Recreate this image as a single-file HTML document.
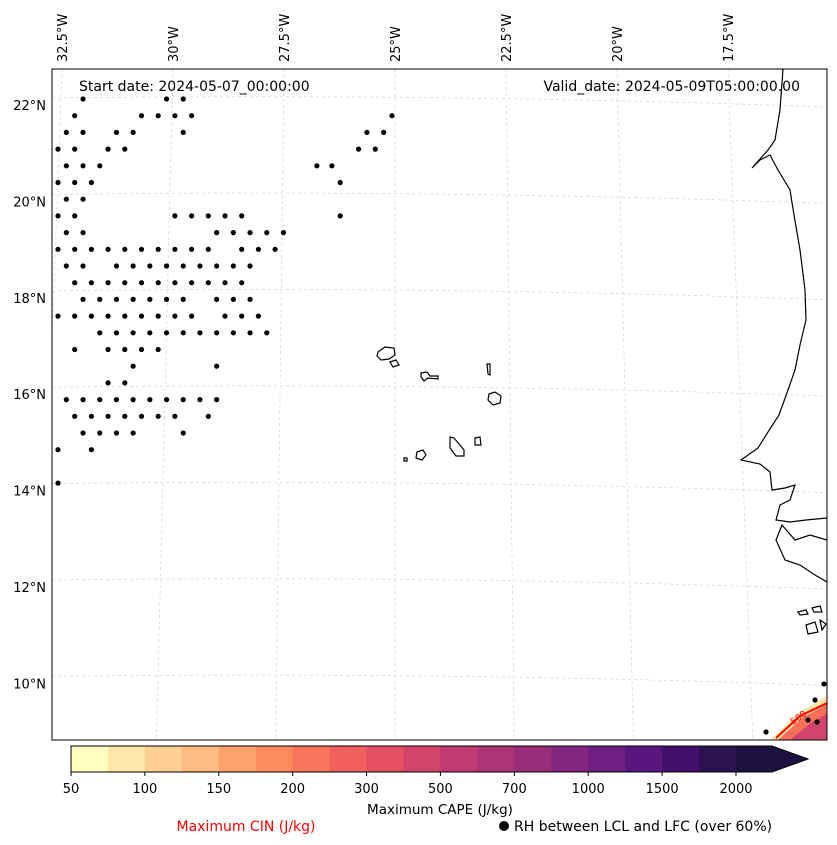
<!DOCTYPE html>
<html><head><meta charset="utf-8"><style>
body{margin:0;background:#fff;}
svg{display:block;font-family:"DejaVu Sans","Liberation Sans",sans-serif;}
</style></head><body>
<svg id="chart" width="837" height="845" viewBox="0 0 837 845">
<defs><clipPath id="clip"><rect x="52" y="69" width="775" height="671"/></clipPath></defs>
<g id="grid" stroke="#d4d4d4" stroke-width="0.7" stroke-dasharray="3,3" fill="none" clip-path="url(#clip)"></g>
<g id="coast" fill="none" stroke="#000" stroke-width="1.2" clip-path="url(#clip)">
<path d="M783,69 L780,110 L775,140 L768,150 L752,168 L760,160 L770,155 L778,170 L790,190 L794,215 L800,250 L805,290 L806,320 L800,345 L795,370 L788,390 L779,415 L768,432 L758,448 L741,460 L760,464 L770,472 L772,490 L785,488 L795,485 L790,500 L780,505 L776,520 L790,522 L806,520 L827,518 M827,540 L810,535 L795,540 L782,525 L776,540 L785,560 L800,565 L815,575 L827,582"/>
<path d="M378,352 L385,347 L394,348 L395,355 L389,359 L381,360 L377,356Z"/>
<path d="M390,362 L396,360 L399,365 L393,367Z"/>
<path d="M421,373 L427,372 L430,376 L438,376 L438,379 L428,378 L424,381 L421,377Z"/>
<path d="M487,364 L490,364 L490,375 L488,374Z"/>
<path d="M489,394 L495,392 L501,396 L500,403 L493,405 L488,400Z"/>
<path d="M450,437 L454,438 L464,450 L464,456 L456,456 L450,448Z"/>
<path d="M475,438 L480,437 L481,445 L475,445Z"/>
<path d="M417,452 L423,450 L426,455 L422,460 L416,458Z"/>
<path d="M404,458 L407,458 L407,461 L404,461Z"/>
<path d="M798,612 L806,610 L808,614 L800,615Z M812,608 L820,606 L822,612 L814,612Z M806,625 L815,622 L818,632 L808,634Z M820,620 L826,624 L822,630Z"/>
</g>
<g id="cape" clip-path="url(#clip)">
<path d="M770,740 L800,712 L827,696 L827,740Z" fill="#fde3a5"/>
<path d="M778,740 L802,718 L827,704 L827,740Z" fill="#f7705c"/>
<path d="M790,740 L812,722 L827,714 L827,740Z" fill="#d3436e"/>
<path d="M776,738 L800,716 L827,703" fill="none" stroke="#f00" stroke-width="2"/>
<text x="793" y="725" font-size="9" fill="#f00" transform="rotate(-35 793 725)">500</text>
</g>
<g id="dots" clip-path="url(#clip)"></g>
<rect x="52" y="69" width="775" height="671" fill="none" stroke="#000" stroke-width="1"/>
<g id="latlabels" font-size="13"></g>
<g id="lonlabels" font-size="13"></g>
<text x="79" y="91" font-size="14">Start date: 2024-05-07_00:00:00</text>
<text x="800" y="91" font-size="14" text-anchor="end">Valid_date: 2024-05-09T05:00:00.00</text>
<g id="cbar"></g>
<text x="440" y="814" font-size="13.5" text-anchor="middle">Maximum CAPE (J/kg)</text>
<text x="246" y="831" font-size="14" text-anchor="middle" fill="#f00">Maximum CIN (J/kg)</text>
<circle cx="504" cy="826" r="5" fill="#000"/>
<text x="514" y="831" font-size="14">RH between LCL and LFC (over 60%)</text>
</svg>
<script>
const NS="http://www.w3.org/2000/svg";
const latTicks=[22,20,18,16,14,12,10];
const latLabels=["22°N","20°N","18°N","16°N","14°N","12°N","10°N"];
const lonTicks=[-32.5,-30,-27.5,-25,-22.5,-20,-17.5];
const lonLabels=["32.5°W","30°W","27.5°W","25°W","22.5°W","20°W","17.5°W"];
const cbarTicks=["50","100","150","200","300","500","700","1000","1500","2000"];
const cbarColors=["#fffdbf","#fee6a8","#fecf92","#febb81","#fda26b","#fc8a5e","#f8765c","#f1605d","#e4505f","#d3446c","#c13a72","#ad3477","#992d7a","#842681","#6f1f81","#5a167e","#420f6c","#2c1151","#1d1142"];
const dotRows=[0,1,2,3,4,5,6,7,8,9,10,11,12,13,14,15,16,17,18,19,20,21,23];
const dotCols=[[1.5,6.5,7.5],[1,5,6,7,8],[0.5,1.5,3.5,4.5,7.5],[0,1,3,4],[0.5,1.5,2.5],[0,1,2],[0.5,1.5],[0,1,7,8,9,10,11],[0.5,1.5,9.5,10.5,11.5,12.5,13.5],[0,1,2,3,4,5,6,7,8,9,11,12,13],[0.5,1.5,3.5,4.5,5.5,6.5,7.5,8.5,9.5,10.5,11.5],[1,2,3,4,5,6,7,8,9,10,11],[1.5,2.5,3.5,4.5,5.5,6.5,7.5,9.5,10.5,11.5],[0,1,2,3,4,5,6,7,8,10,11,12],[2.5,3.5,4.5,5.5,6.5,7.5,8.5,9.5,10.5,11.5,12.5],[1,3,4,5,6],[4.5,9.5],[3,4],[0.5,1.5,2.5,3.5,4.5,5.5,6.5,7.5,8.5,9.5],[1,2,3,4,5,6,7,9],[1.5,2.5,3.5,4.5,7.5],[0,2],[0]];
const extraDots=[[16.9,5],[16.9,7],[15.5,4],[16.4,4],[18,3],[19,3],[18.5,2],[19.5,2],[20,1]];
const yLat=lat=>105+(22-lat)*48.2;
const xTop=lon=>62+(lon+32.5)*44.4;
const xLon=(lon,y)=>xTop(lon)+(y-69)/671*(lon+25)*3.3;
const xCol=c=>58+c*16.7, yRow=r=>99+r*16.7;
function el(t,a,p){const e=document.createElementNS(NS,t);for(const k in a)e.setAttribute(k,a[k]);p.appendChild(e);return e;}
const grid=document.getElementById('grid');
latTicks.forEach((lat,i)=>{const y=yLat(lat);const l=el('path',{d:`M52,${y-7} Q440,${y-12} 827,${y+2}`},grid);


const t=el('text',{x:46,y:y+5,'text-anchor':'end'},document.getElementById('latlabels'));t.textContent=latLabels[i];

});
lonTicks.forEach((lon,i)=>{const x0=xLon(lon,69),x1=xLon(lon,740);const l=el('line',{x1:x0,y1:69,x2:x1,y2:740},grid);


const t=el('text',{x:0,y:0,transform:`translate(${x0+5},62) rotate(-90)`},document.getElementById('lonlabels'));t.textContent=lonLabels[i];

});
const dots=document.getElementById('dots');
dotRows.forEach((r,i)=>dotCols[i].forEach(c=>{const d=el('circle',{cx:xCol(c),cy:yRow(r),r:2.6,fill:'#000'},dots);

}));
extraDots.forEach(([c,r])=>{const d=el('circle',{cx:xCol(c),cy:yRow(r),r:2.6,fill:'#000'},dots);

});
[[766,732],[824,684],[815,700],[808,720],[817,722]].forEach(([x,y])=>{const d=el('circle',{cx:x,cy:y,r:2.6,fill:'#000'},dots);

});
const cb=document.getElementById('cbar');const x0=71,w=665/18;
cbarColors.forEach((c,i)=>{const r=el('rect',{x:x0+i*w,y:746,width:w+0.5,height:26,fill:c},cb);

});
const tri=el('polygon',{points:`772,746 808,759 772,772`,fill:cbarColors[18]},cb);


el('polygon',{points:`71,746 772,746 808,759 772,772 71,772`,fill:'none',stroke:'#000','stroke-width':1},cb);
cbarTicks.forEach((t,i)=>{const x=x0+i*2*w;el('line',{x1:x,y1:772,x2:x,y2:776,stroke:'#000'},cb);
const tx=el('text',{x:x,y:793,'font-size':13,'text-anchor':'middle'},cb);tx.textContent=t;

});
</script>
</body></html>
